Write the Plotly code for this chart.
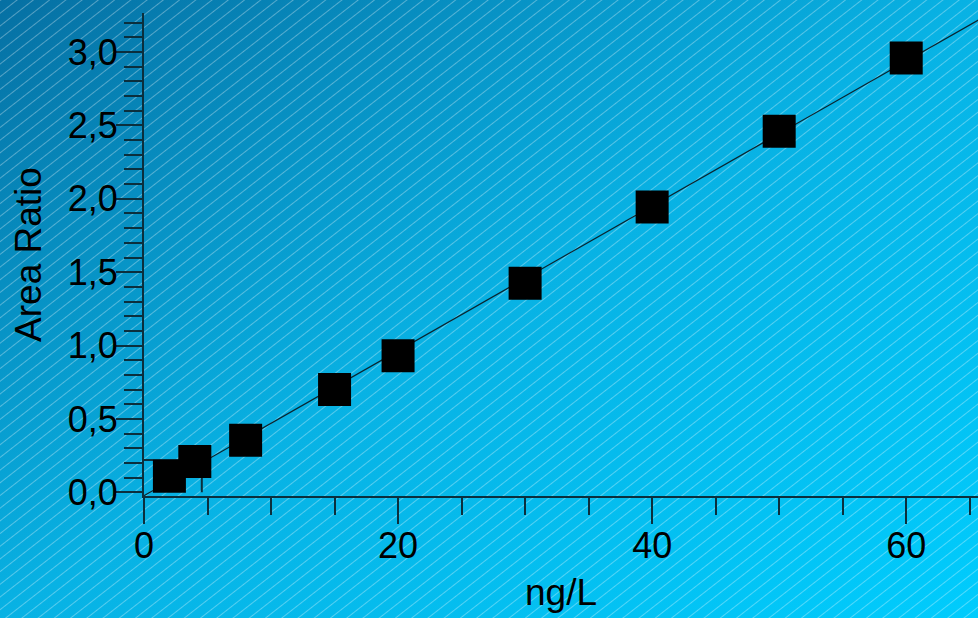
import base64
import numpy as np
import plotly.graph_objects as go

# Calibration standards: concentration (ng/L) vs. measured area ratio
conc_ng_l = [2, 4, 8, 15, 20, 30, 40, 50, 60]
area_ratio = [0.11, 0.21, 0.355, 0.70, 0.93, 1.425, 1.945, 2.46, 2.96]

# Quantitation-limit guide (concentration, area ratio)
loq_conc = 4.55
loq_ratio = 0.22

# Axis settings
x_range = [0, 65.65]
y_range = [-0.025, 3.266]
x_major, x_minor = 20, 5
y_major, y_minor = 0.5, 0.1

# Least-squares calibration line drawn across the whole axis span
slope, intercept = np.polyfit(conc_ng_l, area_ratio, 1)
fit_x = np.array([0.0, 66.0])
fit_y = slope * fit_x + intercept

W, H = 978, 618
M_L, M_R, M_T, M_B = 144, 0, 13, 122
plot_w = W - M_L - M_R
plot_h = H - M_T - M_B

# Page background: diagonal blue gradient with thin light hatching
bg_svg = f"""<svg xmlns="http://www.w3.org/2000/svg" width="{W}" height="{H}" viewBox="0 0 {W} {H}">
<defs>
<linearGradient id="g" x1="0" y1="0" x2="1" y2="1">
<stop offset="0" stop-color="#0670a3"/>
<stop offset="0.5" stop-color="#08b2e4"/>
<stop offset="1" stop-color="#00ccfd"/>
</linearGradient>
<pattern id="h" width="10" height="40" patternUnits="userSpaceOnUse" patternTransform="rotate(52)">
<line x1="0.5" y1="0" x2="0.5" y2="40" stroke="#ffffff" stroke-opacity="0.32" stroke-width="1"/>
</pattern>
</defs>
<rect width="{W}" height="{H}" fill="url(#g)"/>
<rect width="{W}" height="{H}" fill="url(#h)"/>
</svg>"""
bg_uri = "data:image/svg+xml;base64," + base64.b64encode(bg_svg.encode()).decode()

AXIS_COLOR = "#0b2f3d"
FONT = "Liberation Sans, Arial, sans-serif"

fig = go.Figure()

fig.add_trace(go.Scatter(
    x=fit_x, y=fit_y, mode="lines",
    line=dict(color="#0a2530", width=1.2),
    hoverinfo="skip", showlegend=False,
))

fig.add_trace(go.Scatter(
    x=[0, loq_conc, loq_conc], y=[loq_ratio, loq_ratio, 0], mode="lines",
    line=dict(color=AXIS_COLOR, width=2),
    hoverinfo="skip", showlegend=False,
))

fig.add_trace(go.Scatter(
    x=conc_ng_l, y=area_ratio, mode="markers",
    marker=dict(symbol="square", size=33, color="#000000", line=dict(width=0)),
    showlegend=False, cliponaxis=False,
))

fig.add_layout_image(dict(
    source=bg_uri, xref="paper", yref="paper",
    x=-M_L / plot_w, y=1 + M_T / plot_h,
    sizex=W / plot_w, sizey=H / plot_h,
    xanchor="left", yanchor="top", sizing="stretch", layer="below",
))

fig.update_layout(
    width=W, height=H,
    margin=dict(l=M_L, r=M_R, t=M_T, b=M_B, pad=0),
    paper_bgcolor="rgba(0,0,0,0)", plot_bgcolor="rgba(0,0,0,0)",
    separators=",.",
    font=dict(family=FONT, color="#000000", size=36),
    xaxis=dict(
        range=x_range, showgrid=False, zeroline=False,
        showline=True, linecolor=AXIS_COLOR, linewidth=2,
        tick0=0, dtick=x_major, ticks="outside", ticklen=26, tickwidth=2,
        tickcolor=AXIS_COLOR, tickfont=dict(size=36), ticklabelstandoff=-9,
        minor=dict(dtick=x_minor, tick0=0, ticks="outside", ticklen=17,
                   tickwidth=2, tickcolor=AXIS_COLOR, showgrid=False),
        title=dict(text="ng/L", font=dict(size=37), standoff=14),
        fixedrange=True,
    ),
    yaxis=dict(
        range=y_range, showgrid=False, zeroline=False,
        showline=True, linecolor=AXIS_COLOR, linewidth=2,
        tick0=0, dtick=y_major, tickformat=".1f",
        ticks="outside", ticklen=26, tickwidth=2,
        tickcolor=AXIS_COLOR, tickfont=dict(size=36), ticklabelstandoff=-9,
        minor=dict(dtick=y_minor, tick0=0, ticks="outside", ticklen=18,
                   tickwidth=2, tickcolor=AXIS_COLOR, showgrid=False),
        title=dict(text="Area Ratio", font=dict(size=37), standoff=15),
        fixedrange=True,
    ),
)

fig.write_html("out.html", config=dict(displayModeBar=False))
